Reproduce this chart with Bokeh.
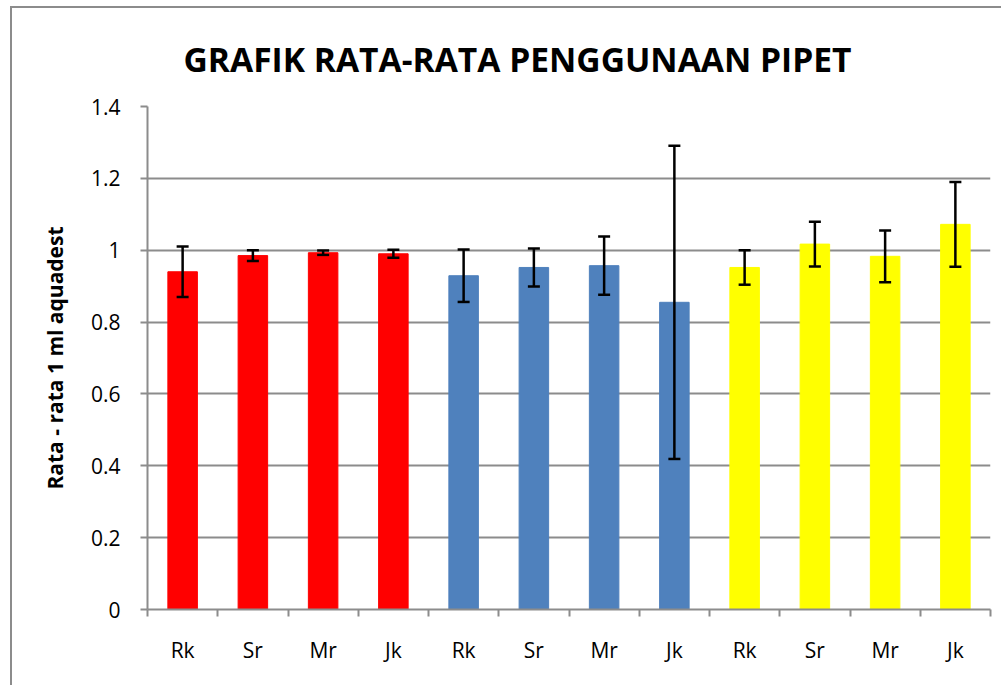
from bokeh.plotting import figure
from bokeh.models import (ColumnDataSource, FixedTicker, CustomJSTickFormatter,
                          Whisker, TeeHead, Range1d)
from bokeh.embed import file_html
from bokeh.resources import INLINE

# ---- data ----
categories = ["Rk", "Sr", "Mr", "Jk", "Rk", "Sr", "Mr", "Jk", "Rk", "Sr", "Mr", "Jk"]
means = [0.940, 0.985, 0.993, 0.990, 0.929, 0.952, 0.957, 0.855, 0.952, 1.017, 0.983, 1.072]
errors = [0.070, 0.015, 0.006, 0.011, 0.073, 0.053, 0.081, 0.436, 0.048, 0.062, 0.072, 0.118]
group_colors = ["#FF0000"] * 4 + ["#4F81BD"] * 4 + ["#FFFF00"] * 4
y_ticks = [0, 0.2, 0.4, 0.6, 0.8, 1, 1.2, 1.4]
title_text = "GRAFIK RATA-RATA PENGGUNAAN PIPET"
y_label = "Rata - rata 1 ml aquadest"

xs = [i + 0.5 for i in range(len(categories))]
src = ColumnDataSource(dict(
    x=xs, top=means, color=group_colors,
    upper=[m + e for m, e in zip(means, errors)],
    lower=[m - e for m, e in zip(means, errors)],
))

p = figure(width=991, height=679, output_backend="svg", toolbar_location=None,
           x_range=Range1d(0, len(categories)), y_range=Range1d(0, 1.4),
           min_border_left=135, min_border_right=13, min_border_top=98,
           min_border_bottom=78,
           styles={"border-left": "2px solid #8c8c8c", "border-top": "2px solid #8c8c8c",
                   "margin-left": "10px", "margin-top": "6px"})

p.title.text = title_text
p.title.text_font = "Open Sans"
p.title.text_font_style = "bold"
p.title.text_font_size = "33.6px"
p.title.align = "left"
p.title.offset = 36
p.title.standoff = 50
p.title.text_color = "#000000"

p.outline_line_color = None
p.xgrid.grid_line_color = None
p.ygrid.grid_line_color = "#8c8c8c"
p.ygrid.grid_line_width = 2
p.ygrid.ticker = FixedTicker(ticks=y_ticks)

p.vbar(x="x", top="top", bottom=0, width=0.42, color="color", source=src)

w = Whisker(source=src, base="x", upper="upper", lower="lower",
            line_color="black", line_width=2.5, level="overlay",
            upper_head=TeeHead(size=12, line_width=2.5, line_color="black"),
            lower_head=TeeHead(size=12, line_width=2.5, line_color="black"))
p.add_layout(w)

# y axis
ya = p.yaxis[0]
ya.ticker = FixedTicker(ticks=y_ticks)
ya.formatter = CustomJSTickFormatter(code="return String(Math.round(tick*10)/10)")
ya.axis_line_color = "#8c8c8c"
ya.axis_line_width = 2
ya.major_tick_line_color = "#8c8c8c"
ya.major_tick_line_width = 2
ya.major_tick_out = 7
ya.major_tick_in = 0
ya.minor_tick_line_color = None
ya.major_label_text_font = "Open Sans"
ya.major_label_text_font_size = "21px"
ya.major_label_text_color = "#000000"
ya.major_label_standoff = 20
ya.axis_label = y_label
ya.axis_label_text_font = "Open Sans"
ya.axis_label_text_font_style = "bold"
ya.axis_label_text_font_size = "21px"
ya.axis_label_text_color = "#000000"
ya.axis_label_standoff = 19

# x axis
xa = p.xaxis[0]
xa.ticker = FixedTicker(ticks=xs, minor_ticks=list(range(len(categories) + 1)))
xa.major_label_overrides = {x: c for x, c in zip(xs, categories)}
xa.axis_line_color = "#8c8c8c"
xa.axis_line_width = 2
xa.major_tick_line_color = None
xa.major_tick_out = 0
xa.major_tick_in = 0
xa.minor_tick_line_color = "#8c8c8c"
xa.minor_tick_line_width = 2
xa.minor_tick_out = 7
xa.minor_tick_in = 0
xa.major_label_text_font = "Open Sans"
xa.major_label_text_font_size = "21px"
xa.major_label_text_color = "#000000"
xa.major_label_standoff = 19

open("out.html", "w").write(file_html(p, INLINE))
